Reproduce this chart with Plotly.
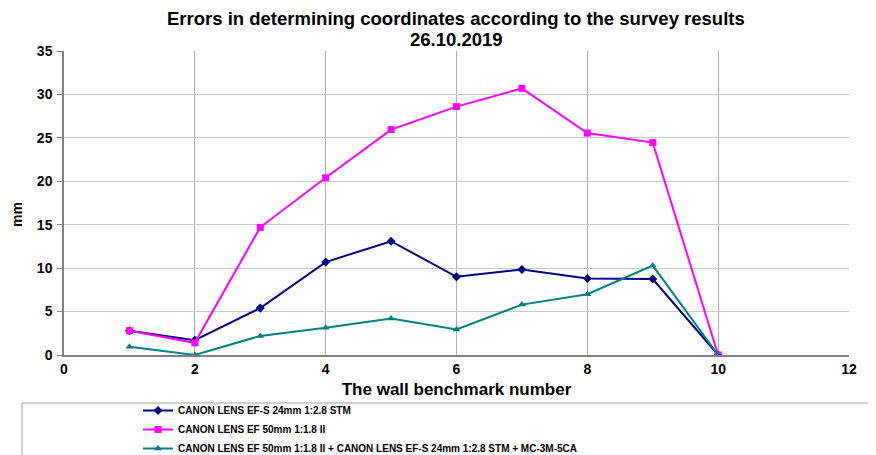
import plotly.graph_objects as go

benchmarks = [1, 2, 3, 4, 5, 6, 7, 8, 9, 10]
lens_24 = [2.8, 1.7, 5.4, 10.7, 13.1, 9.0, 9.85, 8.8, 8.75, 0.0]
lens_50 = [2.8, 1.4, 14.7, 20.4, 25.95, 28.6, 30.7, 25.55, 24.45, 0.0]
lens_combo = [0.96, 0.0, 2.2, 3.15, 4.2, 2.95, 5.8, 7.0, 10.3, 0.0]
names = [
    "CANON LENS EF-S 24mm 1:2.8 STM",
    "CANON LENS EF 50mm 1:1.8 II",
    "CANON LENS EF 50mm 1:1.8 II + CANON LENS EF-S 24mm 1:2.8 STM + MC-3M-5CA",
]
title_line1 = "Errors in determining coordinates according to the survey results"
title_line2 = "26.10.2019"

FONT = "Liberation Sans, Arial, sans-serif"
# page has an 8px body margin; figure sized to fit the visible window
W, H = 868, 447
L, R, T, B = 56, 841, 43, 347  # plot area in figure pixels


def py(fig_px):
    return (B - fig_px) / (B - T)


def px_(fig_px):
    return (fig_px - L) / (R - L)


fig = go.Figure()
fig.add_trace(go.Scatter(x=benchmarks, y=lens_24, name=names[0], mode="lines+markers",
                         line=dict(color="#000080", width=2),
                         marker=dict(symbol="diamond", size=7, color="#000080")))
fig.add_trace(go.Scatter(x=benchmarks, y=lens_50, name=names[1], mode="lines+markers",
                         line=dict(color="#FF00FF", width=2),
                         marker=dict(symbol="square", size=7, color="#FF00FF")))
fig.add_trace(go.Scatter(x=benchmarks, y=lens_combo, name=names[2], mode="lines+markers",
                         line=dict(color="#008080", width=2),
                         marker=dict(symbol="triangle-up", size=7, color="#008080")))

fig.update_layout(
    width=W, height=H,
    margin=dict(l=L, r=W - R, t=T, b=H - B, autoexpand=False),
    paper_bgcolor="white", plot_bgcolor="white",
    font=dict(family=FONT, color="black"),
    xaxis=dict(range=[0, 12], dtick=2, tick0=0, showgrid=True, gridcolor="#b0b0b0", gridwidth=1,
               showline=True, linecolor="#808080", linewidth=1.5,
               ticks="", zeroline=False,
               tickfont=dict(size=14, family=FONT, weight="bold"),
               title=dict(text="<b>The wall benchmark number</b>", font=dict(size=17, family=FONT), standoff=8)),
    yaxis=dict(range=[0, 35], dtick=5, showgrid=True, gridcolor="#c8c8c8", gridwidth=1,
               showline=True, linecolor="#808080", linewidth=1.5,
               ticks="outside", ticklen=5, tickcolor="#808080", zeroline=False,
               ticklabelstandoff=2,
               tickfont=dict(size=14, family=FONT, weight="bold")),
    legend=dict(xref="container", yref="container", x=130 / W, xanchor="left",
                y=1 - 388 / H, yanchor="top",
                font=dict(size=10, family=FONT, weight="bold"),
                bgcolor="rgba(0,0,0,0)", tracegroupgap=0, itemwidth=30),
    showlegend=True,
)

fig.add_annotation(text="<b>" + title_line1 + "</b>", xref="paper", yref="paper",
                   x=px_(448), y=py(10.5), xanchor="center", yanchor="middle",
                   showarrow=False, font=dict(size=18.5, family=FONT))
fig.add_annotation(text="<b>" + title_line2 + "</b>", xref="paper", yref="paper",
                   x=px_(448), y=py(31.5), xanchor="center", yanchor="middle",
                   showarrow=False, font=dict(size=18.5, family=FONT))

fig.add_annotation(text="<b>mm</b>", xref="paper", yref="paper",
                   x=px_(9), y=py(207), xanchor="center", yanchor="middle",
                   textangle=-90, showarrow=False, font=dict(size=14, family=FONT))

fig.add_shape(type="rect", xref="paper", yref="paper",
              x0=px_(14), x1=1.05, y0=py(395), y1=-0.4,
              line=dict(color="#a0a0a0", width=1), fillcolor="rgba(0,0,0,0)", layer="below")

fig.write_html("out.html")
